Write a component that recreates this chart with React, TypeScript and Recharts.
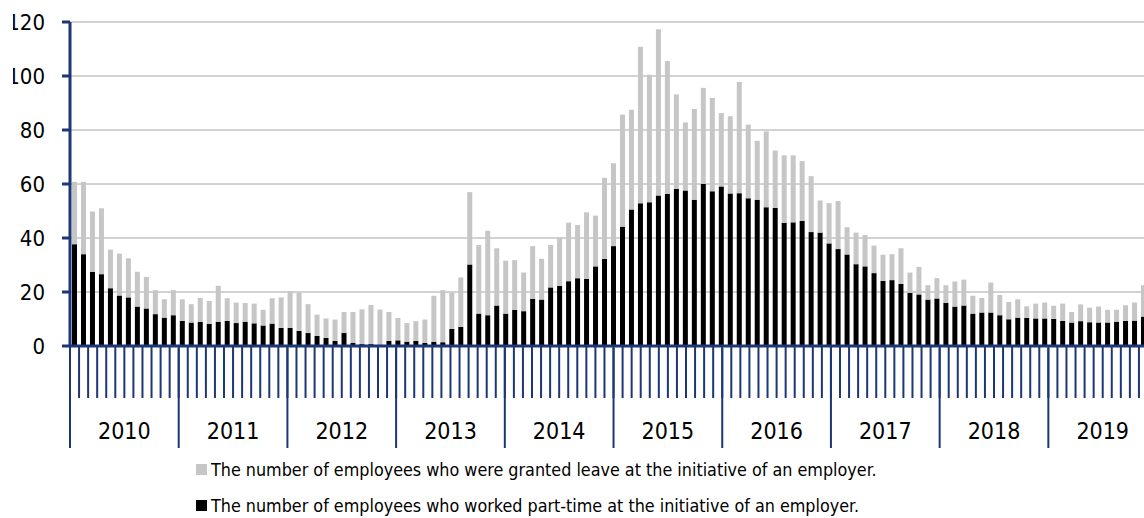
import { BarChart, Bar, XAxis, YAxis, CartesianGrid, Legend } from "recharts";

const years = [2010, 2011, 2012, 2013, 2014, 2015, 2016, 2017, 2018, 2019];

// black part of each bar, read per month
const partTime = [
  37.7, 34.0, 27.5, 26.6, 21.4, 18.7, 18.0, 14.6, 13.9, 11.8, 10.5, 11.4,
  9.3, 8.7, 8.9, 8.2, 8.9, 9.3, 8.5, 9.0, 8.4, 7.6, 8.3, 6.7,
  6.7, 5.6, 4.8, 3.7, 3.0, 1.9, 4.8, 1.1, 0.7, 0.7, 0.5, 1.9,
  2.1, 1.6, 1.9, 1.1, 1.6, 1.4, 6.3, 7.1, 30.2, 12.0, 11.4, 15.0,
  12.0, 13.4, 12.9, 17.5, 17.2, 21.7, 22.3, 24.0, 25.1, 24.9, 29.5, 32.3,
  37.0, 44.2, 50.6, 52.9, 53.2, 55.7, 56.3, 58.2, 57.6, 54.2, 60.0, 57.3,
  59.1, 56.5, 56.6, 54.7, 54.2, 51.4, 51.1, 45.6, 45.8, 46.3, 42.2, 42.0,
  38.0, 35.9, 33.9, 30.3, 29.5, 27.0, 24.1, 24.4, 23.0, 19.7, 19.1, 17.2,
  17.6, 16.0, 14.6, 15.0, 12.0, 12.4, 12.4, 11.4, 9.9, 10.5, 10.4, 10.2,
  10.2, 10.0, 9.3, 8.7, 9.2, 8.8, 8.7, 8.7, 9.0, 9.3, 9.4, 10.9,
];

// grey part stacked on top
const leave = [
  23.1, 26.8, 22.3, 24.4, 14.3, 15.5, 14.5, 12.9, 11.7, 8.9, 6.8, 9.3,
  8.0, 6.8, 8.9, 8.5, 13.4, 8.4, 7.6, 6.9, 7.3, 5.8, 9.4, 11.3,
  13.6, 14.2, 10.7, 7.9, 7.2, 7.9, 7.8, 11.5, 12.9, 14.5, 13.0, 10.7,
  8.3, 6.9, 7.3, 8.7, 17.0, 19.3, 13.4, 18.3, 26.8, 25.4, 31.3, 21.2,
  19.6, 18.4, 14.3, 19.5, 15.1, 15.7, 17.9, 21.7, 19.7, 24.6, 18.8, 30.0,
  30.7, 41.5, 36.9, 57.9, 47.3, 61.6, 49.3, 35.0, 25.2, 33.6, 35.6, 34.6,
  27.2, 28.6, 41.2, 27.3, 21.8, 28.1, 21.3, 25.0, 24.8, 22.2, 20.7, 11.9,
  14.9, 17.8, 10.1, 11.7, 11.6, 10.2, 9.7, 9.6, 13.2, 7.5, 10.2, 5.3,
  7.5, 6.5, 9.3, 9.6, 6.6, 5.4, 11.1, 7.5, 6.4, 6.8, 4.3, 5.5,
  5.9, 4.9, 6.4, 3.9, 6.2, 5.4, 5.9, 4.7, 4.4, 5.8, 6.7, 11.6,
];

const yTicks = [0, 20, 40, 60, 80, 100, 120];

const seriesNames: Record<string, string> = {
  leave: "The number of employees who were granted leave at the initiative of an employer.",
  partTime: "The number of employees who worked part-time at the initiative of an employer.",
};
const legendOrder = ["leave", "partTime"];

const NAVY = "#1d3675";
const GREY = "#c6c6c6";
const FONT = "'DejaVu Sans Condensed', 'DejaVu Sans', sans-serif";

const data = partTime.map((p, i) => ({
  month: `${years[Math.floor(i / 12)]}-${(i % 12) + 1}`,
  partTime: p,
  leave: leave[i],
}));

const monthBounds = data.map((_, i) => i).concat(data.length);
const yearBounds = years.map((_, i) => i * 12).concat(data.length);
const yearMids = years.map((_, i) => i * 12 + 6);

function LegendBox({ payload }: any) {
  const items = [...(payload || [])].sort(
    (a: any, b: any) => legendOrder.indexOf(a.dataKey) - legendOrder.indexOf(b.dataKey)
  );
  return (
    <div style={{ fontFamily: FONT, fontSize: 17.8, color: "#000" }}>
      {items.map((it: any) => (
        <div key={it.dataKey} style={{ height: 36, display: "flex", alignItems: "center" }}>
          <span style={{ width: 11, height: 11, background: it.color, marginRight: 4, display: "inline-block" }} />
          <span style={{ whiteSpace: "nowrap" }}>{it.value}</span>
        </div>
      ))}
    </div>
  );
}

const noLabel = () => <g />;

export default function App() {
  return (
    <div style={{ position: "fixed", left: 0, top: 0, width: 1144, height: 518, overflow: "hidden", background: "#fff" }}>
      <div style={{ position: "absolute", left: 13, top: 0 }}>
        <BarChart
          width={1135}
          height={518}
          data={data}
          margin={{ top: 22, right: 0, left: 0, bottom: 169 }}
          style={{ fontFamily: FONT }}
        >
          <CartesianGrid vertical={false} stroke="#a6a6a6" strokeWidth={1} />
          <XAxis dataKey="month" hide height={0} />
          <XAxis
            xAxisId="months"
            type="number"
            domain={[0, data.length]}
            allowDataOverflow
            ticks={monthBounds}
            interval={0}
            height={1}
            tick={noLabel}
            tickSize={52}
            tickLine={{ stroke: NAVY, strokeWidth: 2 }}
            axisLine={{ stroke: NAVY, strokeWidth: 3 }}
          />
          <XAxis
            xAxisId="yearLines"
            type="number"
            domain={[0, data.length]}
            allowDataOverflow
            ticks={yearBounds}
            interval={0}
            height={1}
            tick={noLabel}
            tickSize={100}
            tickLine={{ stroke: NAVY, strokeWidth: 2 }}
            axisLine={false}
          />
          <XAxis
            xAxisId="yearLabels"
            type="number"
            domain={[0, data.length]}
            allowDataOverflow
            ticks={yearMids}
            interval={0}
            height={1}
            tickSize={0}
            tickMargin={76}
            tickLine={false}
            axisLine={false}
            tickFormatter={(v: number) => String(years[(v - 6) / 12])}
            tick={{ fontSize: 23, fill: "#000", fontFamily: FONT }}
          />
          <YAxis
            width={57}
            domain={[0, 120]}
            ticks={yTicks}
            interval={0}
            tickSize={8}
            tickMargin={17}
            tick={{ fontSize: 22, fill: "#000", fontFamily: FONT }}
            tickLine={{ stroke: NAVY, strokeWidth: 3 }}
            axisLine={{ stroke: NAVY, strokeWidth: 3 }}
          />
          <Legend
            layout="vertical"
            align="center"
            verticalAlign="middle"
            wrapperStyle={{ left: 183, top: 451, width: "auto" }}
            content={<LegendBox />}
          />
          <Bar dataKey="partTime" name={seriesNames.partTime} stackId="a" fill="#000" barSize={5} isAnimationActive={false} />
          <Bar dataKey="leave" name={seriesNames.leave} stackId="a" fill={GREY} barSize={5} isAnimationActive={false} />
        </BarChart>
      </div>
    </div>
  );
}
